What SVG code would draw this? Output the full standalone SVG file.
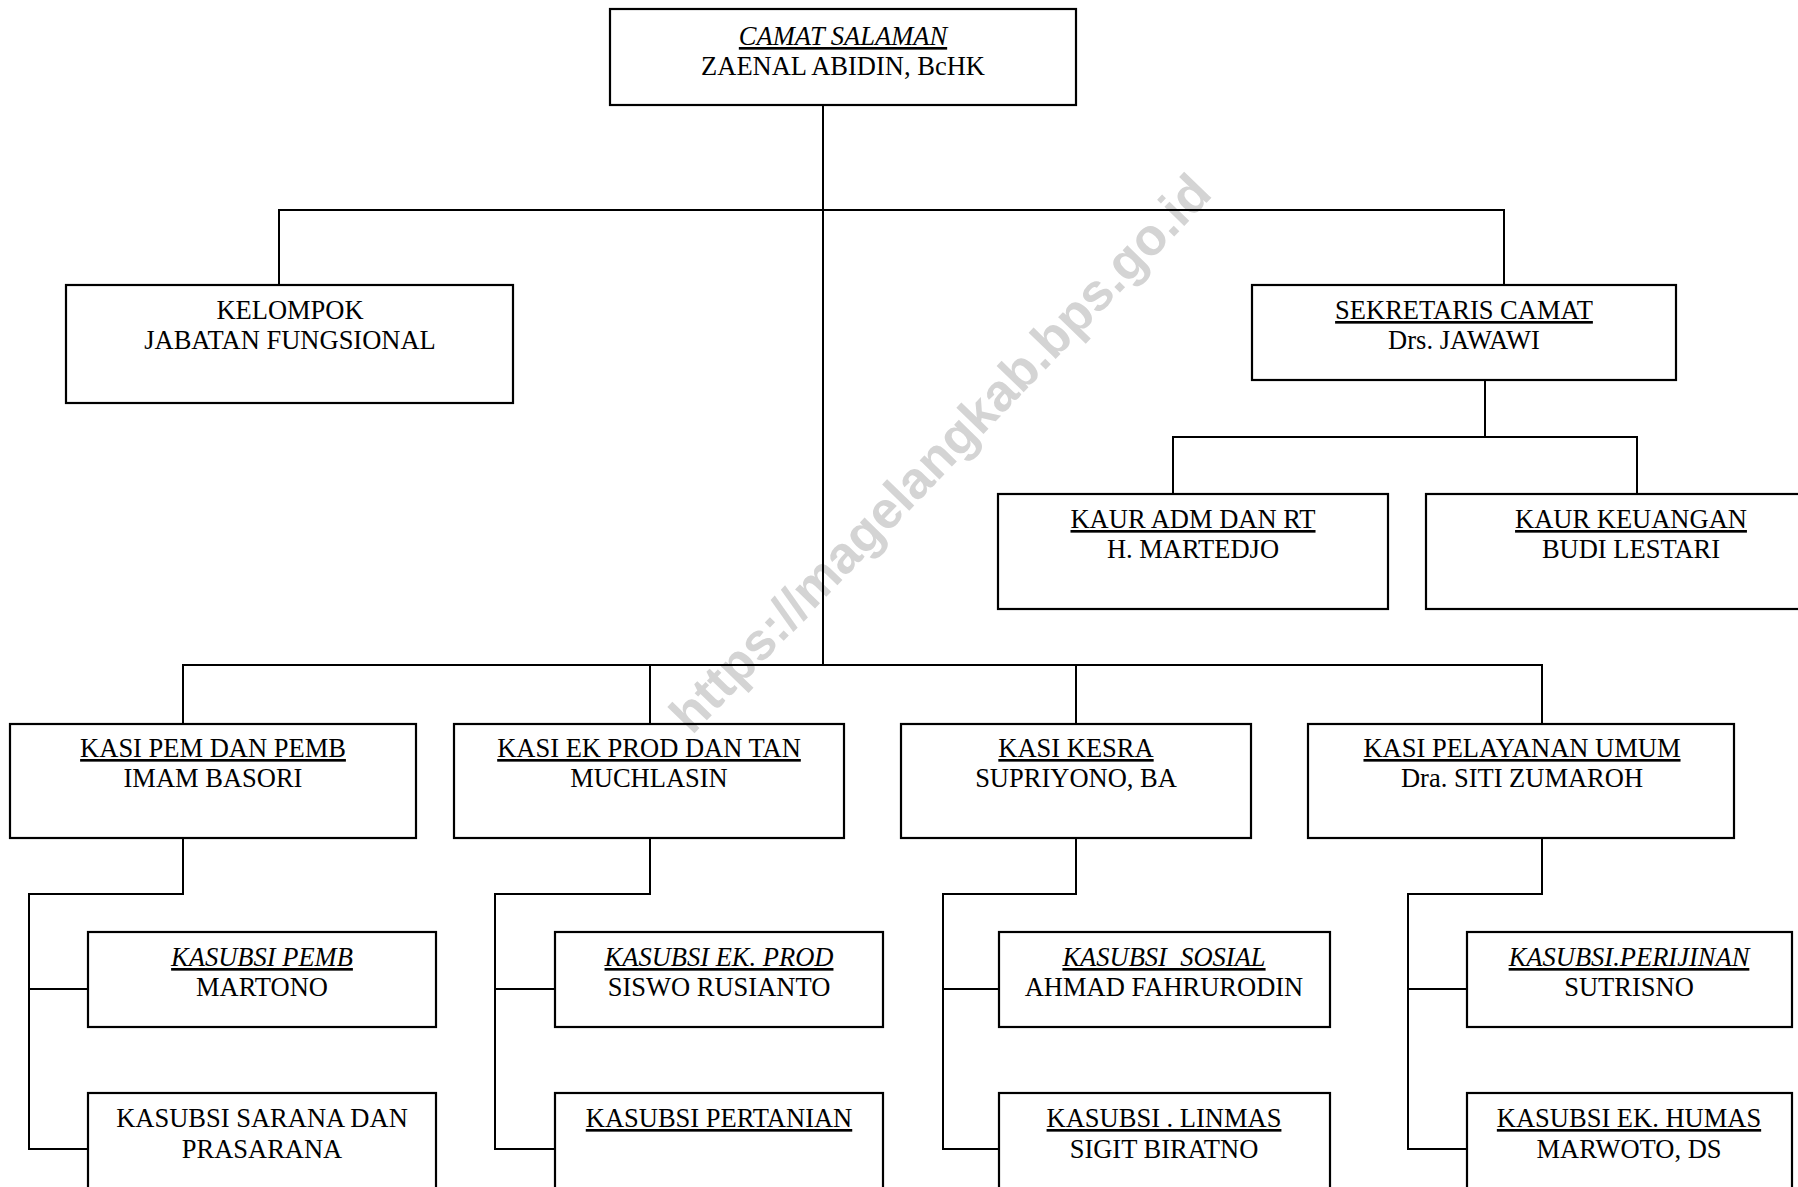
<svg xmlns="http://www.w3.org/2000/svg" width="1798" height="1187" viewBox="0 0 1798 1187">
<style>
.box{fill:none;stroke:#000;stroke-width:2.2}
.ln{fill:none;stroke:#000;stroke-width:2}
text{font-family:"Liberation Serif","Times New Roman",serif;font-size:26.5px;fill:#000;text-anchor:middle}
.u{text-decoration:underline}
.i{font-style:italic}
.wm{font-family:"Liberation Sans",Arial,sans-serif;font-weight:bold;font-size:52px;fill:#d4d4d4}
</style>
<rect width="1798" height="1187" fill="#fff"/>
<text class="wm" x="940" y="453" dominant-baseline="central" transform="rotate(-46 940 453)">https://magelangkab.bps.go.id</text>
<g id="connectors">
<path class="ln" d="M823 105V665"/>
<path class="ln" d="M279 285V210H1504V285"/>
<path class="ln" d="M1485 380V437"/>
<path class="ln" d="M1173 494V437H1637V494"/>
<path class="ln" d="M183 724V665H1542V724"/>
<path class="ln" d="M650 665V724"/>
<path class="ln" d="M1076 665V724"/>
<path class="ln" d="M183 838V894H29V1149H88"/>
<path class="ln" d="M29 989H88"/>
<path class="ln" d="M650 838V894H495V1149H555"/>
<path class="ln" d="M495 989H555"/>
<path class="ln" d="M1076 838V894H943V1149H999"/>
<path class="ln" d="M943 989H999"/>
<path class="ln" d="M1542 838V894H1408V1149H1467"/>
<path class="ln" d="M1408 989H1467"/>
</g>
<g id="camat">
<rect class="box" x="610" y="9" width="466" height="96"/>
<text class="u i" x="843" y="45">CAMAT SALAMAN</text>
<text x="843" y="75">ZAENAL ABIDIN, BcHK</text>
</g>
<g id="kelompok">
<rect class="box" x="66" y="285" width="447" height="118"/>
<text x="290" y="319">KELOMPOK</text>
<text x="290" y="349">JABATAN FUNGSIONAL</text>
</g>
<g id="sekretaris">
<rect class="box" x="1252" y="285" width="424" height="95"/>
<text class="u" x="1464" y="319">SEKRETARIS CAMAT</text>
<text x="1464" y="349">Drs. JAWAWI</text>
</g>
<g id="kaur-adm">
<rect class="box" x="998" y="494" width="390" height="115"/>
<text class="u" x="1193" y="528">KAUR ADM DAN RT</text>
<text x="1193" y="558">H. MARTEDJO</text>
</g>
<g id="kaur-keuangan">
<rect class="box" x="1426" y="494" width="410" height="115"/>
<text class="u" x="1631" y="528">KAUR KEUANGAN</text>
<text x="1631" y="558">BUDI LESTARI</text>
</g>
<g id="kasi-pem">
<rect class="box" x="10" y="724" width="406" height="114"/>
<text class="u" x="213" y="757">KASI PEM DAN PEMB</text>
<text x="213" y="787">IMAM BASORI</text>
</g>
<g id="kasi-ek">
<rect class="box" x="454" y="724" width="390" height="114"/>
<text class="u" x="649" y="757">KASI EK PROD DAN TAN</text>
<text x="649" y="787">MUCHLASIN</text>
</g>
<g id="kasi-kesra">
<rect class="box" x="901" y="724" width="350" height="114"/>
<text class="u" x="1076" y="757">KASI KESRA</text>
<text x="1076" y="787">SUPRIYONO, BA</text>
</g>
<g id="kasi-pelayanan">
<rect class="box" x="1308" y="724" width="426" height="114"/>
<text class="u" x="1522" y="757">KASI PELAYANAN UMUM</text>
<text x="1522" y="787">Dra. SITI ZUMAROH</text>
</g>
<g id="kasubsi-pemb">
<rect class="box" x="88" y="932" width="348" height="95"/>
<text class="u i" x="262" y="966">KASUBSI PEMB</text>
<text x="262" y="996">MARTONO</text>
</g>
<g id="kasubsi-sarana">
<rect class="box" x="88" y="1093" width="348" height="120"/>
<text x="262" y="1127">KASUBSI SARANA DAN</text>
<text x="262" y="1158">PRASARANA</text>
</g>
<g id="kasubsi-ekprod">
<rect class="box" x="555" y="932" width="328" height="95"/>
<text class="u i" x="719" y="966">KASUBSI EK. PROD</text>
<text x="719" y="996">SISWO RUSIANTO</text>
</g>
<g id="kasubsi-pertanian">
<rect class="box" x="555" y="1093" width="328" height="120"/>
<text class="u" x="719" y="1127">KASUBSI PERTANIAN</text>
</g>
<g id="kasubsi-sosial">
<rect class="box" x="999" y="932" width="331" height="95"/>
<text class="u i" x="1164" y="966">KASUBSI&#160; SOSIAL</text>
<text x="1164" y="996">AHMAD FAHRURODIN</text>
</g>
<g id="kasubsi-linmas">
<rect class="box" x="999" y="1093" width="331" height="120"/>
<text class="u" x="1164" y="1127">KASUBSI . LINMAS</text>
<text x="1164" y="1158">SIGIT BIRATNO</text>
</g>
<g id="kasubsi-perijinan">
<rect class="box" x="1467" y="932" width="325" height="95"/>
<text class="u i" x="1629" y="966">KASUBSI.PERIJINAN</text>
<text x="1629" y="996">SUTRISNO</text>
</g>
<g id="kasubsi-humas">
<rect class="box" x="1467" y="1093" width="325" height="120"/>
<text class="u" x="1629" y="1127">KASUBSI EK. HUMAS</text>
<text x="1629" y="1158">MARWOTO, DS</text>
</g>
</svg>
